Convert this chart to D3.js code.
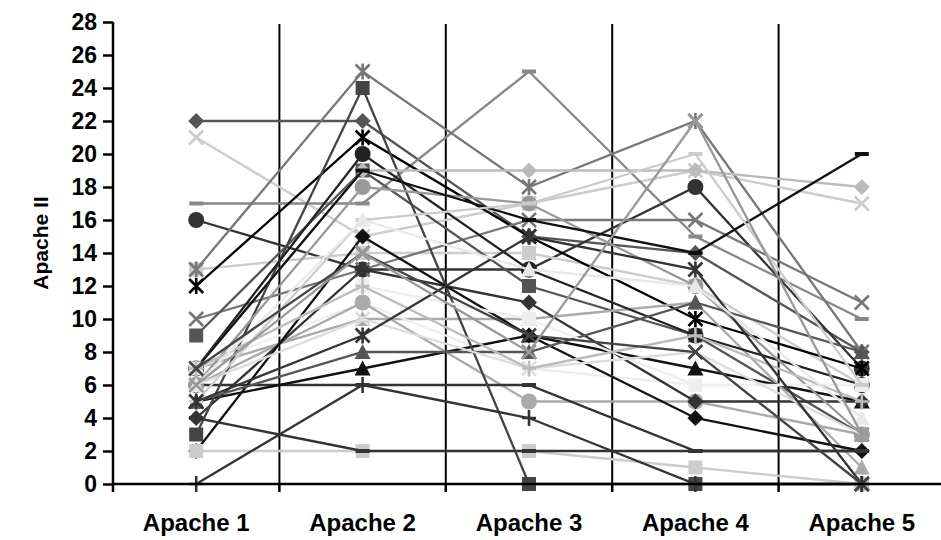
<html>
<head>
<script src="https://d3js.org/d3.v7.min.js"></script>
<style>
  body { margin: 0; background: #fff; }
  text { font-family: "Liberation Sans", Arial, sans-serif; font-weight: bold; fill: #000; }
</style>
</head>
<body>
<svg width="941" height="540"></svg>
<script>
const categories = ['Apache 1', 'Apache 2', 'Apache 3', 'Apache 4', 'Apache 5'];
const yTicks = d3.range(0, 29, 2);

// one row per patient: scores at Apache 1..5
const s01 = [22, 22, 15, 14, 8];
const s02 = [21, 15, 17, 19, 17];
const s03 = [17, 17, 25, 15, 10];
const s04 = [16, 13, 13, 18, 7];
const s05 = [13, 14, 14, 12, 6];
const s06 = [12, 21, 15, 10, 7];
const s07 = [10, 13, 16, 16, 11];
const s08 = [9, 19, 12, 9, 3];
const s09 = [7, 10, 10, 11, 1];
const s10 = [7, 11, 7, 6, 6];
const s11 = [6, 11, 5, 5, 3];
const s12 = [6, 6, 6, 2, 2];
const s13 = [5, 7, 9, 7, 5];
const s14 = [4, 13, 11, 5, 5];
const s15 = [3, 24, 0, 0, 0];
const s16 = [2, 15, 9, 4, 2];
const s17 = [2, 2, 2, 1, 0];
const s18 = [4, 2, 2, 2, 2];
const s19 = [0, 6, 4, 0, 0];
const s20 = [13, 25, 18, 22, 8];
const s21 = [7, 20, 13, 9, 6];
const s22 = [6, 18, 17, 12, 3];
const s23 = [7, 19, 19, 19, 18];
const s24 = [7, 19, 16, 14, 20];
const s25 = [5, 8, 8, 11, 8];
const s26 = [7, 12, 10, 6, 6];
const s27 = [6, 10, 7, 8, 3];
const s28 = [7, 12, 7, 9, 5];
const s29 = [5, 16, 17, 20, 6];
const s30 = [5, 9, 15, 13, 0];
const s31 = [6, 16, 13, 12, 4];
const s32 = [7, 14, 9, 8, 0];
const s33 = [6, 14, 8, 22, 3];

const series = [
  { v: s01, m: 'diamond', c: '#555' },
  { v: s02, m: 'x', c: '#ccc' },
  { v: s03, m: 'dash', c: '#888' },
  { v: s04, m: 'circle', c: '#333' },
  { v: s05, m: 'square', c: '#ccc' },
  { v: s06, m: 'asterisk', c: '#000' },
  { v: s07, m: 'x', c: '#777' },
  { v: s08, m: 'square', c: '#555' },
  { v: s09, m: 'triangle', c: '#aaa' },
  { v: s10, m: 'dash', c: '#eee' },
  { v: s11, m: 'circle', c: '#aaa' },
  { v: s12, m: 'dash', c: '#333' },
  { v: s13, m: 'triangle', c: '#111' },
  { v: s14, m: 'diamond', c: '#333' },
  { v: s15, m: 'square', c: '#444' },
  { v: s16, m: 'diamond', c: '#111' },
  { v: s17, m: 'square', c: '#ccc' },
  { v: s18, m: 'dash', c: '#333' },
  { v: s19, m: 'plus', c: '#333' },
  { v: s20, m: 'asterisk', c: '#777' },
  { v: s21, m: 'circle', c: '#222' },
  { v: s22, m: 'circle', c: '#999' },
  { v: s23, m: 'diamond', c: '#bbb' },
  { v: s24, m: 'dash', c: '#111' },
  { v: s25, m: 'triangle', c: '#555' },
  { v: s26, m: 'square', c: '#eee' },
  { v: s27, m: 'x', c: '#ddd' },
  { v: s28, m: 'plus', c: '#bbb' },
  { v: s29, m: 'dash', c: '#ccc' },
  { v: s30, m: 'asterisk', c: '#333' },
  { v: s31, m: 'triangle', c: '#e8e8e8' },
  { v: s32, m: 'x', c: '#444' },
  { v: s33, m: 'x', c: '#999' }
];

const svg = d3.select('svg');
const x = d3.scaleBand().domain(categories).range([113, 945]);
const y = d3.scaleLinear().domain([0, 28]).range([484, 22]);
const cx = d => x(d) + x.bandwidth() / 2;

// separators between categories
svg.append('g')
  .selectAll('line')
  .data(categories.slice(1))
  .join('line')
  .attr('x1', d => x(d)).attr('x2', d => x(d))
  .attr('y1', y(28) + 2).attr('y2', y(0))
  .attr('stroke', '#000').attr('stroke-width', 2);

// markers
const markerPath = {
  diamond: 'M0,-8L8,0L0,8L-8,0Z',
  square: 'M-7,-7H7V7H-7Z',
  triangle: 'M0,-8L8,7H-8Z',
  x: 'M-7,-7L7,7M-7,7L7,-7',
  asterisk: 'M-7,-7L7,7M-7,7L7,-7M0,-8V8',
  plus: 'M-7,0H7M0,-8V8',
  dash: 'M-7,0H7'
};
const stroked = { x: 1, asterisk: 1, plus: 1, dash: 1 };

const line = d3.line()
  .x((d, i) => cx(categories[i]))
  .y(d => y(d));

const g = svg.append('g');
series.forEach(s => {
  const sg = g.append('g');
  sg.append('path')
    .attr('d', line(s.v))
    .attr('fill', 'none')
    .attr('stroke', s.c)
    .attr('stroke-width', 2.3);
  const pts = sg.selectAll('.pt')
    .data(s.v)
    .join('g')
    .attr('transform', (d, i) => `translate(${cx(categories[i])},${y(d)})`);
  if (s.m === 'circle') {
    pts.append('circle').attr('r', 8).attr('fill', s.c);
  } else if (stroked[s.m]) {
    pts.append('path').attr('d', markerPath[s.m])
      .attr('fill', 'none').attr('stroke', s.c)
      .attr('stroke-width', s.m === 'dash' ? 4 : 2.6);
  } else {
    pts.append('path').attr('d', markerPath[s.m]).attr('fill', s.c);
  }
});

// axes
const yAxis = svg.append('g').attr('transform', 'translate(113,0)')
  .call(d3.axisLeft(y).tickValues(yTicks).tickSize(10).tickPadding(6));
yAxis.select('.domain').attr('stroke-width', 2.5).attr('d', `M0,${y(28)}V${y(0)}`);
yAxis.selectAll('.tick line').attr('stroke-width', 2.5);
yAxis.selectAll('.tick text').style('font-size', '23px');

const xAxis = svg.append('g').attr('transform', `translate(0,${y(0)})`)
  .call(d3.axisBottom(x).tickSize(0).tickPadding(30));
xAxis.select('.domain').attr('stroke-width', 2.5).attr('d', 'M113,0H941');
xAxis.selectAll('.tick text').style('font-size', '24px');
xAxis.append('g')
  .selectAll('line')
  .data(categories)
  .join('line')
  .attr('x1', d => x(d)).attr('x2', d => x(d))
  .attr('y1', 0).attr('y2', 8)
  .attr('stroke', '#000').attr('stroke-width', 2.5);

svg.append('text')
  .attr('transform', 'translate(48,243) rotate(-90)')
  .attr('text-anchor', 'middle')
  .style('font-size', '21px')
  .text('Apache II');
</script>
</body>
</html>
